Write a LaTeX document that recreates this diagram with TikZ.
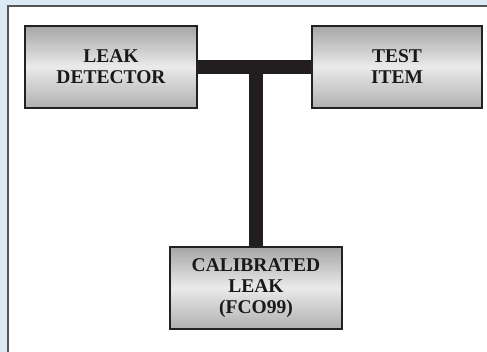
\documentclass[tikz,border=0pt]{standalone}
\usepackage{fontspec}
\setmainfont{Liberation Serif}
\usetikzlibrary{calc}
\definecolor{bgblue}{HTML}{DDE9F5}
\definecolor{panelborder}{HTML}{555555}
\definecolor{boxdark}{HTML}{222222}
\definecolor{bartone}{HTML}{221E1F}
\definecolor{shadetop}{HTML}{A4A4A4}
\definecolor{shademid}{HTML}{EAEAEA}
\definecolor{shadebot}{HTML}{B0B0B0}
\begin{document}
\begin{tikzpicture}[x=1pt,y=-1pt,
  boxnode/.style={draw=boxdark, line width=2pt, minimum width=172pt, minimum height=82pt,
    inner sep=0pt, align=center,
    path picture={
      \foreach \i in {0,...,39}{
        \pgfmathsetmacro\fa{\i/40}
        \pgfmathsetmacro\fb{(\i+1)/40+0.01}
        \pgfmathtruncatemacro\pc{\i<20 ? 5*\i+3 : 5*(39-\i)+3}
        \ifnum\i<20 \def\endc{shadetop}\else\def\endc{shadebot}\fi
        \fill[shademid!\pc!\endc]
          ($(path picture bounding box.north west)!\fa!(path picture bounding box.south west)$)
          rectangle
          ($(path picture bounding box.north east)!\fb!(path picture bounding box.south east)$);
      }},
    font=\bfseries\fontsize{19.5}{21}\selectfont, text=black!90},
  barline/.style={draw=bartone, line width=13.5pt}]
  \useasboundingbox (0,0) rectangle (487,352);
  \fill[bgblue] (0,0) rectangle (487,352);
  \fill[white] (8,6) rectangle (487,352);
  \draw[panelborder, line width=1.5pt] (8,352) -- (8,6) -- (487,6);
  \node[boxnode] (ld) at (111,67) {LEAK\\DETECTOR};
  \node[boxnode, minimum width=170pt] (ti) at (397,67) {TEST\\ITEM};
  \node[boxnode] (cl) at (256,288) {CALIBRATED\\LEAK\\(FCO99)};
  \draw[barline] (ld.east) -- (ti.west);
  \coordinate (j) at (ld.east -| cl.north);
  \draw[barline] (j) -- (cl.north);
\end{tikzpicture}
\end{document}
